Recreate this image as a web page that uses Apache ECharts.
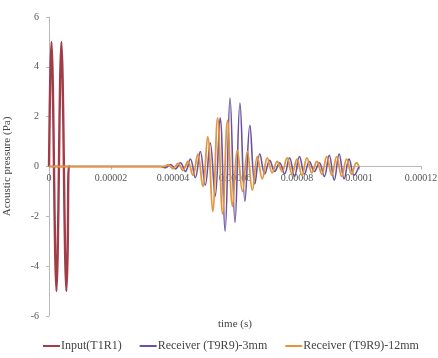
<!DOCTYPE html>
<html>
<head>
<meta charset="utf-8">
<script src="https://cdn.jsdelivr.net/npm/echarts@6/dist/echarts.min.js"></script>
<style>
  html, body { margin: 0; padding: 0; background: #fff; }
  #chart { width: 438px; height: 358px; }
</style>
</head>
<body>
<div id="chart"></div>
<script>
// time in microseconds, pressure in Pa
const inputTime = [0, 0.4, 0.8, 1.2, 1.6, 2.0, 2.4, 2.8, 3.2, 3.6, 4.0, 4.4, 4.8, 5.2, 5.6, 6.0, 6.4, 6.8];
const inputVal = [0, 3.5, 5, 3.5, 0, -3.5, -5, -3.5, 0, 3.5, 5, 3.5, 0, -3.5, -5, -3.5, 0, 0];

const rx3Time = [0, 36.0, 37.6, 39.2, 40.8, 42.4, 44.0, 45.6, 47.2, 48.8, 50.4, 52.0, 53.6, 55.2, 56.8,
  58.4, 60.0, 61.6, 63.2, 64.8, 66.4, 68.0, 69.6, 71.2, 72.8, 74.4, 76.0, 77.6, 79.2, 80.8,
  82.4, 84.0, 85.6, 87.2, 88.8, 90.4, 92.0, 93.6, 95.2, 96.8, 98.4, 100.0];
const rx3Val = [0, 0, -0.05, 0.08, -0.1, 0.15, -0.2, 0.3, -0.45, 0.6, -0.75, 0.95, -1.2, 1.95, -2.6,
  2.75, -2.25, 2.55, -1.4, 1.65, -0.7, 0.5, -0.3, 0.25, -0.2, 0.15, -0.3, 0.35, -0.4, 0.4,
  -0.3, 0.2, -0.2, 0.15, -0.4, 0.45, -0.55, 0.5, -0.5, 0.3, -0.35, 0];

const rx12Time = [0, 36.8, 38.4, 40.0, 41.6, 43.2, 44.8, 46.4, 48.0, 49.6, 51.2, 52.8, 54.4, 56.0,
  57.6, 59.2, 60.8, 62.4, 64.0, 65.6, 67.2, 68.8, 70.4, 72.0, 73.6, 75.2, 76.8, 78.4, 80.0,
  81.6, 83.2, 84.8, 86.4, 88.0, 89.6, 91.2, 92.8, 94.4, 96.0, 97.6, 99.2, 100.0];
const rx12Val = [0, 0, 0.06, -0.08, 0.12, -0.15, 0.2, -0.35, 0.5, -0.8, 1.2, -1.8, 1.95, -1.9,
  1.85, -1.6, 0.65, -1.0, 0.6, -0.95, 0.4, -0.5, 0.35, -0.25, 0.2, -0.2, 0.35, -0.3, 0.3,
  -0.35, 0.35, -0.25, 0.2, -0.3, 0.4, -0.35, 0.4, -0.4, 0.3, -0.3, 0.15, 0];

const seriesNames = ['Input(T1R1)', 'Receiver (T9R9)-3mm', 'Receiver (T9R9)-12mm'];
const seriesColors = ['#a23c48', '#6a52a0', '#e3953e'];
const yTicks = [-6, -4, -2, 0, 2, 4, 6];

const pair = (ts, vs) => ts.map((t, i) => [t, vs[i]]);
const font = '"Liberation Serif", "Times New Roman", serif';

const gridTop = 17;
const gridBottom = 42;
const plotHeight = 358 - gridTop - gridBottom;

const chart = echarts.init(document.getElementById('chart'));

chart.setOption({
  backgroundColor: '#fff',
  animation: false,
  textStyle: { fontFamily: font },
  grid: { left: 49, right: 17, top: gridTop, bottom: gridBottom, outerBoundsMode: 'none', containLabel: false },
  xAxis: {
    type: 'value',
    min: 0,
    max: 120,
    interval: 20,
    position: 'bottom',
    // sit the axis (line + labels) on y = 0, the middle of the plot
    offset: -plotHeight / 2,
    axisLine: { onZero: false, lineStyle: { color: '#b8b8b8' } },
    axisTick: { show: true, inside: false, length: 3, lineStyle: { color: '#b8b8b8' } },
    axisLabel: {
      color: '#555',
      fontSize: 10,
      fontFamily: font,
      margin: 7,
      showMaxLabel: true,
      formatter: v => String(+(v / 1e6).toFixed(6))
    },
    splitLine: { show: false }
  },
  yAxis: {
    type: 'value',
    min: yTicks[0],
    max: yTicks[yTicks.length - 1],
    interval: 2,
    name: 'Acoustic pressure (Pa)',
    nameLocation: 'middle',
    nameGap: 36,
    nameTextStyle: { color: '#444', fontSize: 11, fontFamily: font },
    axisLine: { show: true, onZero: false, lineStyle: { color: '#b8b8b8' } },
    axisTick: { show: true, length: 3, lineStyle: { color: '#b8b8b8' } },
    axisLabel: { color: '#555', fontSize: 10, fontFamily: font, margin: 10 },
    splitLine: { show: false }
  },
  graphic: [{
    type: 'text',
    left: 218,
    top: 319,
    style: { text: 'time (s)', fill: '#444', fontSize: 11, fontFamily: font }
  }],
  legend: {
    bottom: 1,
    left: 38,
    itemWidth: 17,
    itemHeight: 2,
    itemGap: 18,
    icon: 'rect',
    textStyle: { color: '#444', fontSize: 12, fontFamily: font, padding: [0, 0, 0, -4] },
    data: seriesNames
  },
  series: [
    {
      name: seriesNames[0],
      type: 'line',
      data: pair(inputTime, inputVal),
      smooth: 0.4,
      showSymbol: false,
      lineStyle: { width: 2.4, color: seriesColors[0] },
      itemStyle: { color: seriesColors[0] }
    },
    {
      name: seriesNames[1],
      type: 'line',
      data: pair(rx3Time, rx3Val),
      smooth: 0.4,
      showSymbol: false,
      lineStyle: { width: 1.6, color: seriesColors[1] },
      itemStyle: { color: seriesColors[1] }
    },
    {
      name: seriesNames[2],
      type: 'line',
      data: pair(rx12Time, rx12Val),
      smooth: 0.4,
      showSymbol: false,
      lineStyle: { width: 1.8, color: seriesColors[2] },
      itemStyle: { color: seriesColors[2] }
    }
  ]
});
</script>
</body>
</html>
